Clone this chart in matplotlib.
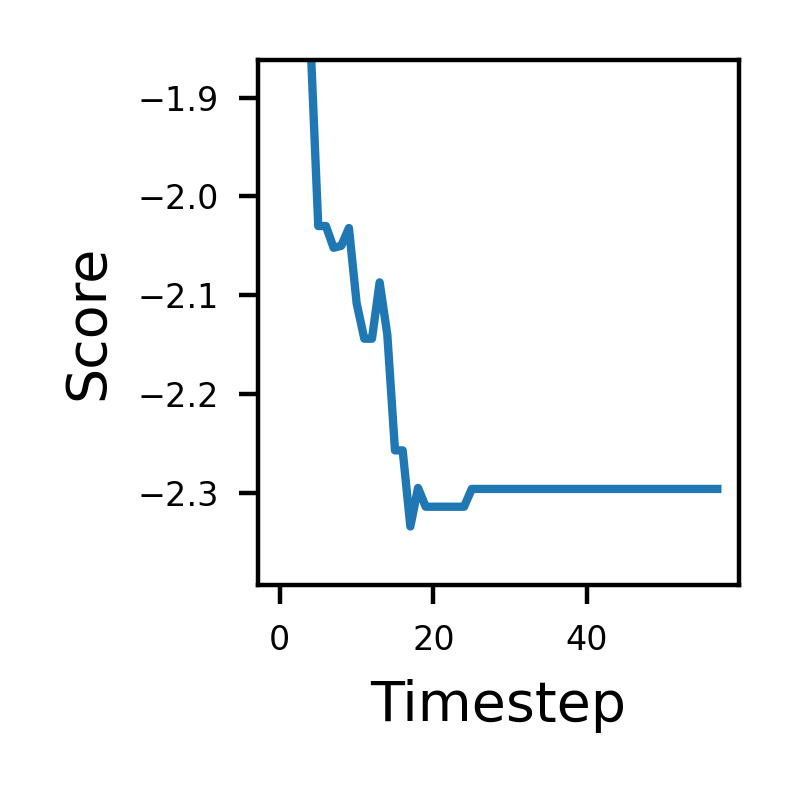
import matplotlib
matplotlib.use("Agg")
import matplotlib.pyplot as plt

# score per timestep (first few values leave the visible window at the top)
timesteps = list(range(58))
scores = [-1.55, -1.62, -1.70, -1.78, -1.845,
          -2.030, -2.030, -2.052, -2.050, -2.032,
          -2.108, -2.144, -2.144, -2.087, -2.140,
          -2.257, -2.257, -2.334, -2.295, -2.314,
          -2.314, -2.314, -2.314, -2.314, -2.314] + [-2.296] * 33

y_limits = (-2.393, -1.862)

fig, ax = plt.subplots(figsize=(2, 2), dpi=400)
ax.plot(timesteps, scores, color="#1f77b4", linewidth=1.5)
ax.set_ylim(*y_limits)
ax.set_xticks([0, 20, 40])
ax.set_yticks([-1.9, -2.0, -2.1, -2.2, -2.3])
ax.tick_params(labelsize=6)
ax.set_xlabel("Timestep", fontsize=10)
ax.set_ylabel("Score", fontsize=10)
fig.subplots_adjust(left=0.3225, right=0.924, bottom=0.269, top=0.925)
fig.savefig("out.png", dpi=400)
